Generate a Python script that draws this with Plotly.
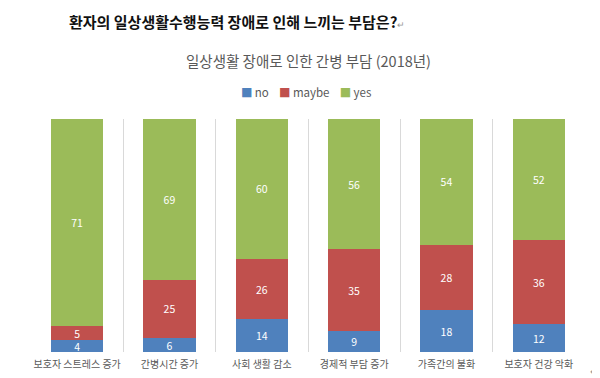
import plotly.graph_objects as go

categories = ["보호자 스트레스 증가", "간병시간 증가", "사회 생활 감소", "경제적 부담 증가", "가족간의 불화", "보호자 건강 악화"]
no_vals = [4, 6, 14, 9, 18, 12]
maybe_vals = [5, 25, 26, 35, 28, 36]
yes_vals = [71, 69, 60, 56, 54, 52]

series = [("no", no_vals, "#4F81BD"), ("maybe", maybe_vals, "#C0504D"), ("yes", yes_vals, "#9BBB59")]

FONT = "Noto Sans CJK KR, Noto Sans, sans-serif"

fig = go.Figure()
for name, vals, color in series:
    fig.add_trace(go.Bar(
        name=name, x=categories, y=vals, marker=dict(color=color, line=dict(width=0)),
        text=vals, texttemplate="%{text}", textposition="inside", insidetextanchor="middle",
        textangle=0,
        textfont=dict(color="white", size=10.5, family=FONT), constraintext="none",
        hoverinfo="skip",
    ))

legend_html = ("\u00a0" * 4).join(
    f"<span style='color:{c}'>■</span>\u2009{n}" for n, _, c in series
)

fig.update_layout(
    width=600, height=378,
    barmode="stack", barnorm="percent", bargap=0.435,
    margin=dict(l=23, r=23, t=111, b=34, autoexpand=False),
    paper_bgcolor="white", plot_bgcolor="white",
    font=dict(family=FONT, color="#595959"),
    uniformtext=dict(minsize=10, mode="show"),
    showlegend=False,
    title=dict(text="환자의 일상생활수행능력 장애로 인해 느끼는 부담은?<span style='font-size:9px;color:#999999;font-weight:normal'>↵</span>",
               x=61/600, xanchor="left", xref="container",
               y=1-15/378, yanchor="middle", yref="container",
               font=dict(size=15, color="#111111", family=FONT, weight="bold")),
    xaxis=dict(type="category", tickson="boundaries", showgrid=True, gridcolor="#D9D9D9", gridwidth=1,
               ticks="", showline=False, zeroline=False, tickangle=0, automargin=False,
               tickfont=dict(size=10, color="#595959"), ticklabelstandoff=5,
               range=[-0.5, 5.5]),
    yaxis=dict(range=[0, 100], visible=False, showgrid=False, zeroline=False, automargin=False),
    annotations=[
        dict(text="일상생활 장애로 인한 간병 부담 (2018년)", xref="paper", yref="paper",
             x=(300-23)/554, y=1+(111-52)/233, xanchor="center", yanchor="middle",
             showarrow=False, font=dict(size=14.5, color="#595959", family=FONT)),
        dict(text=legend_html, xref="paper", yref="paper",
             x=(298-23)/554, y=1+(111-84)/233, xanchor="center", yanchor="middle",
             showarrow=False, font=dict(size=11.5, color="#595959", family=FONT)),
        dict(text="↵", xref="paper", yref="paper", x=(592-23)/554, y=-(362-344)/233,
             xanchor="right", yanchor="middle", showarrow=False,
             font=dict(size=10, color="#999999", family=FONT)),
    ],
)

fig.write_html("out.html")
